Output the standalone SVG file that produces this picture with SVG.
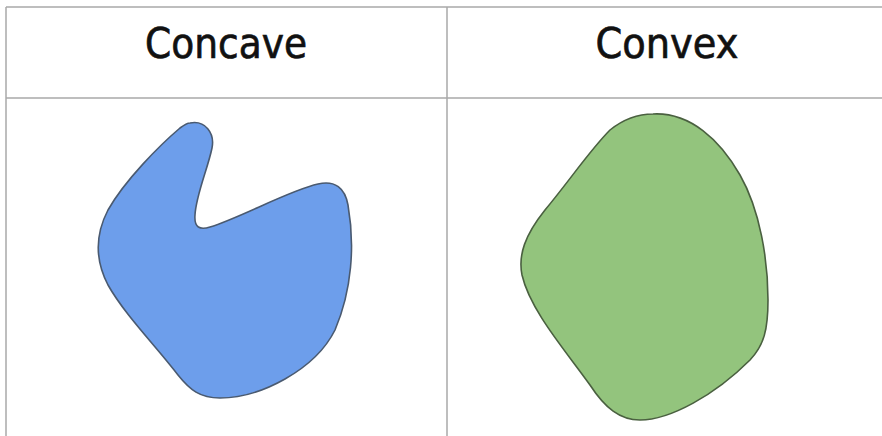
<svg xmlns="http://www.w3.org/2000/svg" width="882" height="436" viewBox="0 0 882 436">
<style>
.grid{stroke:#a8a8a8;stroke-width:1.5;fill:none}
.hdr{font-family:"DejaVu Sans",Verdana,sans-serif;font-size:42px;fill:#111;stroke:#111;stroke-width:0.7;text-anchor:middle}
.shape{stroke-width:1.6}
</style>
<rect width="882" height="436" fill="#ffffff"/>
<g id="table" class="grid">
<line x1="6" y1="7" x2="882" y2="7"/>
<line x1="6" y1="7" x2="6" y2="436"/>
<line x1="447" y1="7" x2="447" y2="436"/>
<line x1="6" y1="98" x2="882" y2="98"/>
</g>
<g id="header-concave"><text class="hdr" x="226" y="58" textLength="162" lengthAdjust="spacingAndGlyphs">Concave</text></g>
<g id="header-convex"><text class="hdr" x="667" y="58" textLength="143" lengthAdjust="spacingAndGlyphs">Convex</text></g>
<g id="concave-shape">
<path class="shape" fill="#6d9eeb" stroke="#4a5a70" d="M 190 123 C 205 120, 215 133, 212 148 C 208 168, 196 195, 195 215 C 194 228, 200 230, 210 227 C 240 218, 290 190, 318 184 C 335 180, 345 188, 348 205 C 355 245, 352 290, 335 330 C 315 370, 260 398, 220 398 C 200 398, 190 390, 178 375 C 155 345, 125 315, 108 285 C 95 260, 95 235, 108 210 C 125 180, 160 145, 180 128 C 184 125, 187 123, 190 123 Z"/>
</g>
<g id="convex-shape">
<path class="shape" fill="#93c47d" stroke="#4a6040" d="M 653 114 C 690 112, 720 140, 740 175 C 760 210, 768 260, 768 300 C 768 330, 764 345, 750 360 C 715 395, 670 420, 640 420 C 620 420, 605 408, 590 385 C 565 350, 530 310, 522 275 C 518 255, 525 235, 545 210 C 570 180, 590 150, 610 130 C 625 118, 640 114, 653 114 Z"/>
</g>
</svg>
